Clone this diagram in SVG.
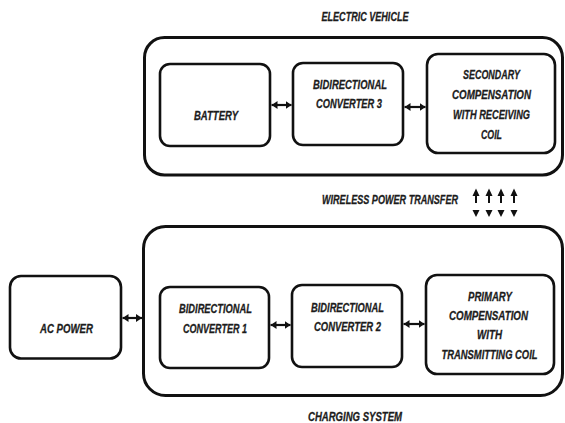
<svg xmlns="http://www.w3.org/2000/svg" width="565" height="423" viewBox="0 0 565 423">
  <style>
    .frame { fill: none; stroke: #111; stroke-width: 3; }
    .box { fill: #fff; stroke: #111; stroke-width: 2.6; }
    .lbl { font-family: "Liberation Sans", Arial, sans-serif; font-weight: bold; font-style: italic; font-size: 13px; fill: #1c1c1c; stroke: #1c1c1c; stroke-width: 0.3; text-anchor: middle; }
    .link { stroke: #111; stroke-width: 2.2; fill: none; marker-start: url(#head); marker-end: url(#head); }
    .tip { fill: #111; }
  </style>
  <defs>
    <marker id="head" viewBox="0 0 6 8" refX="6" refY="4" markerWidth="6" markerHeight="8" markerUnits="userSpaceOnUse" orient="auto-start-reverse">
      <path d="M0,0 L6,4 L0,8 Z" fill="#111"/>
    </marker>
  </defs>
  <rect width="565" height="423" fill="#fff"/>

  <!-- Vehicle side -->
  <g id="electric-vehicle">
    <rect class="frame" x="144.5" y="37.5" width="418" height="137.5" rx="20"/>
    <text class="lbl" x="365" y="21" textLength="87" lengthAdjust="spacingAndGlyphs">ELECTRIC VEHICLE</text>
  </g>
  <g id="battery">
    <rect class="box" x="160" y="64" width="110" height="82" rx="10"/>
    <text class="lbl" x="216" y="120" textLength="44" lengthAdjust="spacingAndGlyphs">BATTERY</text>
  </g>
  <g id="converter-3">
    <rect class="box" x="293" y="63" width="110" height="82" rx="10"/>
    <text class="lbl" x="350" y="89" textLength="74" lengthAdjust="spacingAndGlyphs">BIDIRECTIONAL</text>
    <text class="lbl" x="349" y="108" textLength="66" lengthAdjust="spacingAndGlyphs">CONVERTER 3</text>
  </g>
  <g id="secondary-compensation">
    <rect class="box" x="427" y="54" width="128" height="99" rx="11"/>
    <text class="lbl" x="491.5" y="79" textLength="57" lengthAdjust="spacingAndGlyphs">SECONDARY</text>
    <text class="lbl" x="491.5" y="99" textLength="79" lengthAdjust="spacingAndGlyphs">COMPENSATION</text>
    <text class="lbl" x="491.5" y="119" textLength="77" lengthAdjust="spacingAndGlyphs">WITH RECEIVING</text>
    <text class="lbl" x="491.5" y="139" textLength="21" lengthAdjust="spacingAndGlyphs">COIL</text>
  </g>

  <!-- Wireless link -->
  <g id="wireless-power-transfer">
    <text class="lbl" x="390" y="204" textLength="136" lengthAdjust="spacingAndGlyphs">WIRELESS POWER TRANSFER</text>
    <g stroke="#111" stroke-width="2">
      <line x1="476" y1="194" x2="476" y2="203"/>
      <line x1="489" y1="194" x2="489" y2="203"/>
      <line x1="501" y1="194" x2="501" y2="203"/>
      <line x1="514" y1="194" x2="514" y2="203"/>
    </g>
    <path class="tip" d="M472.5,196 L476,188.5 L479.5,196 Z M485.5,196 L489,188.5 L492.5,196 Z M497.5,196 L501,188.5 L504.5,196 Z M510.5,196 L514,188.5 L517.5,196 Z"/>
    <path class="tip" d="M472.5,210 L479.5,210 L476,217 Z M485.5,210 L492.5,210 L489,217 Z M497.5,210 L504.5,210 L501,217 Z M510.5,210 L517.5,210 L514,217 Z"/>
  </g>

  <!-- Grid side -->
  <g id="ac-power">
    <rect class="box" x="10" y="276" width="111" height="82.5" rx="11"/>
    <text class="lbl" x="66.5" y="333" textLength="53" lengthAdjust="spacingAndGlyphs">AC POWER</text>
  </g>
  <g id="charging-system">
    <rect class="frame" x="143.5" y="226.5" width="419" height="169" rx="22"/>
    <text class="lbl" x="355" y="421" textLength="94" lengthAdjust="spacingAndGlyphs">CHARGING SYSTEM</text>
  </g>
  <g id="converter-1">
    <rect class="box" x="160" y="287" width="109" height="81" rx="10"/>
    <text class="lbl" x="215.5" y="313" textLength="73" lengthAdjust="spacingAndGlyphs">BIDIRECTIONAL</text>
    <text class="lbl" x="215" y="333" textLength="64" lengthAdjust="spacingAndGlyphs">CONVERTER 1</text>
  </g>
  <g id="converter-2">
    <rect class="box" x="292" y="285" width="110" height="82" rx="10"/>
    <text class="lbl" x="347.5" y="312" textLength="73" lengthAdjust="spacingAndGlyphs">BIDIRECTIONAL</text>
    <text class="lbl" x="347.5" y="331" textLength="67" lengthAdjust="spacingAndGlyphs">CONVERTER 2</text>
  </g>
  <g id="primary-compensation">
    <rect class="box" x="426" y="275" width="128" height="99" rx="11"/>
    <text class="lbl" x="490" y="301" textLength="44" lengthAdjust="spacingAndGlyphs">PRIMARY</text>
    <text class="lbl" x="488.5" y="320" textLength="79" lengthAdjust="spacingAndGlyphs">COMPENSATION</text>
    <text class="lbl" x="489.5" y="339" textLength="25" lengthAdjust="spacingAndGlyphs">WITH</text>
    <text class="lbl" x="489.5" y="359" textLength="96" lengthAdjust="spacingAndGlyphs">TRANSMITTING COIL</text>
  </g>

  <!-- Bidirectional connectors -->
  <g id="connectors">
    <line class="link" x1="271.5" y1="105" x2="291.5" y2="105"/>
    <line class="link" x1="404.5" y1="107" x2="425.5" y2="107"/>
    <line class="link" x1="122.5" y1="318" x2="142" y2="318"/>
    <line class="link" x1="270.5" y1="325" x2="290.5" y2="325"/>
    <line class="link" x1="403.5" y1="324" x2="424.5" y2="324"/>
  </g>
</svg>
